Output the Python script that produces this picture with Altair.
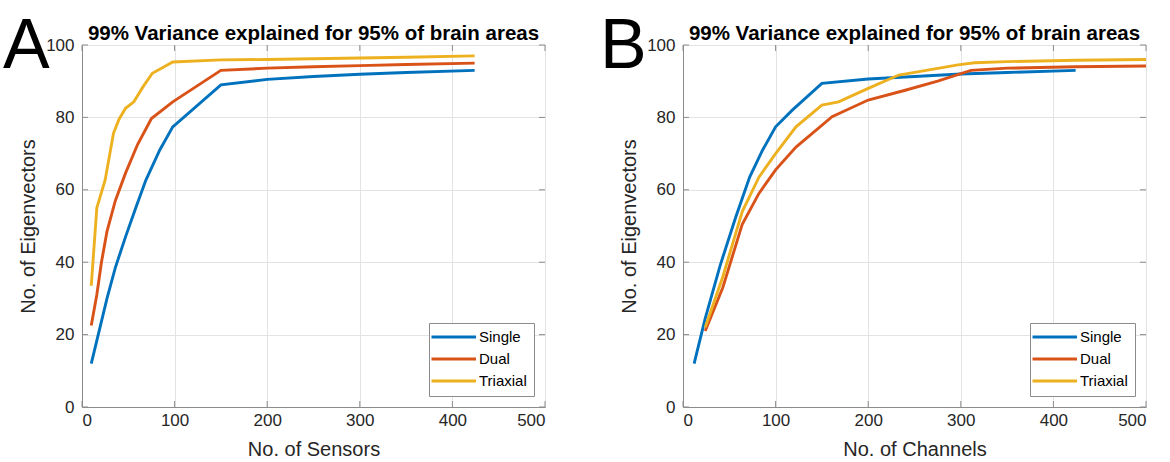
import altair as alt
import pandas as pd

FONT = "Liberation Sans, Arial, Helvetica, sans-serif"
series = ["Single", "Dual", "Triaxial"]
colors = ["#0072BD", "#D95319", "#EDB120"]
x_ticks = [0, 100, 200, 300, 400, 500]
y_ticks = [0, 20, 40, 60, 80, 100]
title_text = "99% Variance explained for 95% of brain areas"

# Panel A: No. of Sensors
a_single_x = [10, 27, 36, 47, 58, 69, 84, 98, 150, 200, 250, 300, 350, 424]
a_single_y = [12, 30, 38.5, 47, 55, 62.7, 71, 77.4, 89, 90.5, 91.3, 91.9, 92.4, 93]
a_dual_x = [10, 16, 21, 27, 36, 47, 60, 75, 98, 150, 200, 250, 300, 350, 424]
a_dual_y = [22.5, 31, 40, 48.5, 57, 64.6, 72.5, 79.7, 84.3, 93, 93.6, 94, 94.3, 94.6, 95]
a_tri_x = [10, 16, 25, 34, 40, 47, 56, 66, 76, 98, 150, 200, 250, 300, 350, 424]
a_tri_y = [33.5, 55, 62.7, 75.6, 79.5, 82.5, 84.3, 88.5, 92.2, 95.3, 95.9, 96.0, 96.2, 96.4, 96.6, 97]

# Panel B: No. of Channels
b_single_x = [12, 24, 40, 57, 72, 86, 100, 118, 150, 200, 250, 300, 350, 424]
b_single_y = [12, 24.5, 39, 52.5, 63.5, 71, 77.4, 82, 89.4, 90.6, 91.3, 92, 92.4, 93]
b_dual_x = [24, 43, 64, 82, 100, 122, 161, 200, 240, 275, 311, 350, 424, 500]
b_dual_y = [21, 33, 50.5, 59, 65.5, 71.8, 80.2, 84.8, 87.5, 90, 93, 93.6, 94, 94.2]
b_tri_x = [24, 43, 64, 82, 100, 122, 150, 168, 200, 233, 297, 315, 350, 424, 500]
b_tri_y = [22, 36, 54, 63.5, 70, 77.4, 83.4, 84.3, 88, 91.7, 94.5, 95.1, 95.4, 95.8, 96]


def long_df(xs_list, ys_list):
    rows = []
    for name, xs, ys in zip(series, xs_list, ys_list):
        for xv, yv in zip(xs, ys):
            rows.append({"series": name, "x": xv, "y": yv})
    return pd.DataFrame(rows)


df_a = long_df([a_single_x, a_dual_x, a_tri_x], [a_single_y, a_dual_y, a_tri_y])
df_b = long_df([b_single_x, b_dual_x, b_tri_x], [b_single_y, b_dual_y, b_tri_y])

W, H = 463, 362
FRAME = "#8c8c8c"
TICK = 6


def panel(df, xtitle, letter, letter_x):
    xenc = alt.X("x:Q", scale=alt.Scale(domain=[0, 500], nice=False),
                 axis=alt.Axis(values=x_ticks, title=xtitle, labelPadding=5, titlePadding=11))
    yenc = alt.Y("y:Q", scale=alt.Scale(domain=[0, 100], nice=False),
                 axis=alt.Axis(values=y_ticks, title="No. of Eigenvectors", labelPadding=8, titlePadding=7))
    lines = alt.Chart(df).mark_line(strokeWidth=2.9, clip=True).encode(
        x=xenc, y=yenc,
        color=alt.Color("series:N", scale=alt.Scale(domain=series, range=colors),
                        legend=alt.Legend(title=None, orient="bottom-right", offset=11,
                                          symbolType="M-2.3,0H6.6", symbolSize=100,
                                          symbolStrokeWidth=3, labelFontSize=15, labelFont=FONT,
                                          labelColor="#000000", strokeColor=FRAME, fillColor="white",
                                          padding=6.5, rowPadding=6.0, labelOffset=28.5)),
    )
    xt = pd.DataFrame({"x": x_ticks})
    yt = pd.DataFrame({"y": y_ticks})
    bottom = alt.Chart(xt).mark_rule(color=FRAME, strokeWidth=1).encode(
        x=xenc, y=alt.value(H), y2=alt.value(H - TICK))
    top = alt.Chart(xt).mark_rule(color=FRAME, strokeWidth=1).encode(
        x=xenc, y=alt.value(0), y2=alt.value(TICK))
    left = alt.Chart(yt).mark_rule(color=FRAME, strokeWidth=1).encode(
        y=yenc, x=alt.value(0), x2=alt.value(TICK))
    right = alt.Chart(yt).mark_rule(color=FRAME, strokeWidth=1).encode(
        y=yenc, x=alt.value(W), x2=alt.value(W - TICK))
    lab = alt.Chart(pd.DataFrame({"t": [letter]})).mark_text(
        align="left", baseline="alphabetic", fontSize=70, font=FONT, color="#000000").encode(
        text="t:N", x=alt.value(letter_x), y=alt.value(23))
    ttl = alt.Chart(pd.DataFrame({"t": [title_text]})).mark_text(
        align="center", baseline="alphabetic", fontSize=20.5, fontWeight="bold", font=FONT,
        color="#000000").encode(text="t:N", x=alt.value(W / 2), y=alt.value(-5))
    return alt.layer(bottom, top, left, right, lines, lab, ttl).properties(width=W, height=H)


pa = panel(df_a, "No. of Sensors", "A", -79)
pb = panel(df_b, "No. of Channels", "B", -83)

chart = alt.hconcat(pa, pb, spacing=138, bounds="flush").resolve_scale(
    color="independent").resolve_legend(color="independent").properties(
    padding={"left": 2, "top": 11, "right": 5, "bottom": 2},
    background="white",
).configure_view(stroke=FRAME, strokeWidth=1).configure_axis(
    grid=True, gridColor="#e3e3e3", gridWidth=1, ticks=False, tickSize=0,
    domainColor=FRAME, domainWidth=1,
    labelFont=FONT, labelFontSize=17, labelColor="#262626",
    titleFont=FONT, titleFontSize=20, titleFontWeight="normal", titleColor="#262626",
)

chart.save("out.html", embed_options={"renderer": "svg", "actions": False})
